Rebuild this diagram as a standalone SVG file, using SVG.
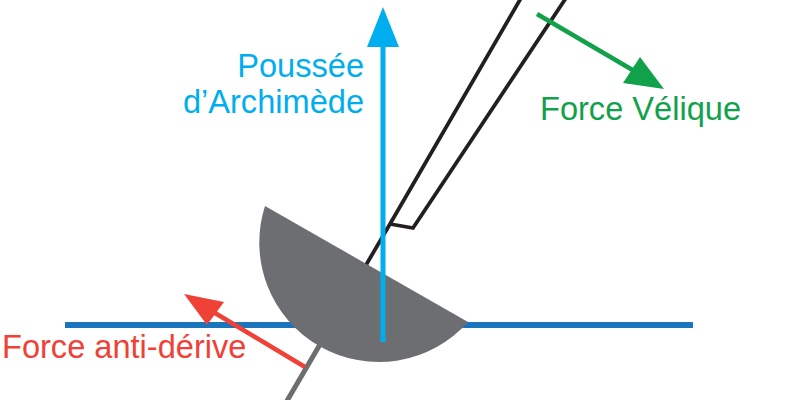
<svg xmlns="http://www.w3.org/2000/svg" width="800" height="400" viewBox="0 0 800 400">
<style>
text{font-family:"Liberation Sans",Arial,sans-serif;font-size:32.6px}
.mast{fill:none;stroke:#231f20;stroke-width:3.8;stroke-linejoin:miter}
</style>
<rect width="800" height="400" fill="#fff"/>
<g id="waterline"><line x1="65" y1="325" x2="693" y2="325" stroke="#1b75bc" stroke-width="6"/></g>
<g id="keel"><line x1="367" y1="264" x2="284" y2="406" stroke="#6d6e71" stroke-width="5"/></g>
<g id="mast"><path class="mast" d="M366,265 L390,224 L521,-2 M390,224 L413,228 L566,-2"/></g>
<g id="hull"><path d="M265,206 A119.5,119.5 0 0,0 468,322 Z" fill="#6d6e71"/></g>
<g id="connectors">
<line x1="383" y1="342" x2="383" y2="40" stroke="#00aeef" stroke-width="5"/>
<path d="M383,7 L399,47 L367,47 Z" fill="#00aeef"/>
<line x1="537" y1="14" x2="636" y2="72" stroke="#12a14b" stroke-width="4.5"/>
<path d="M664,89 L623,83 L640,57 Z" fill="#12a14b"/>
<line x1="305" y1="367" x2="210" y2="310" stroke="#ef4136" stroke-width="4.5"/>
<path d="M184,294 L224,302 L207,325 Z" fill="#ef4136"/>
</g>
<g id="label-archimede" fill="#00aeef" text-anchor="end">
<text x="364" y="77" font-size="32">Poussée</text>
<text x="364" y="113" font-size="32">d’Archimède</text>
</g>
<g id="label-velique"><text x="540" y="120" fill="#12a14b">Force Vélique</text></g>
<g id="label-antiderive"><text x="2" y="358" fill="#ef4136" font-size="33">Force anti-dérive</text></g>
</svg>
